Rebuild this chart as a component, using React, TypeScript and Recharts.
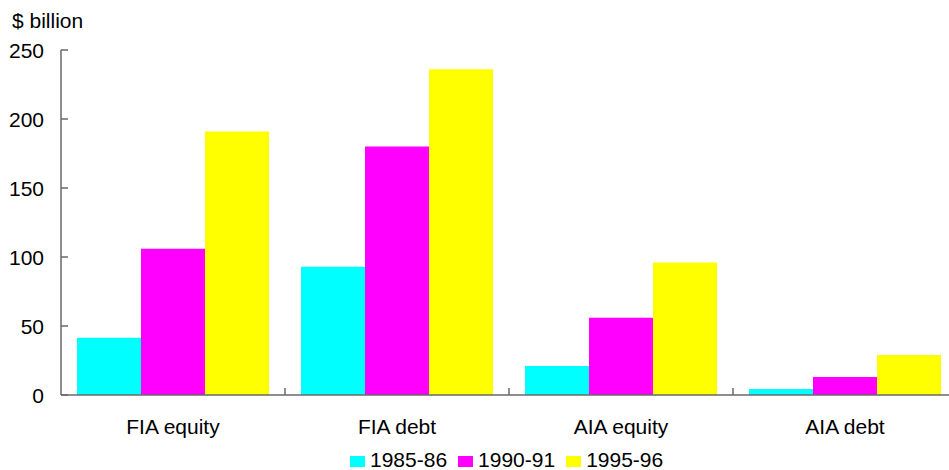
import { BarChart, Bar, XAxis, YAxis, Legend } from 'recharts';

// values, $ billion
const categories = ['FIA equity', 'FIA debt', 'AIA equity', 'AIA debt'];
const fy1985 = [41.5, 93, 21, 4.3];
const fy1990 = [106, 180, 56, 13];
const fy1995 = [191, 236, 96, 29];
const yTicks = [0, 50, 100, 150, 200, 250];

const data = categories.map((name, i) => ({
  name,
  '1985-86': fy1985[i],
  '1990-91': fy1990[i],
  '1995-96': fy1995[i],
}));

const FONT = '"Liberation Sans", Arial, sans-serif';
const AXIS = '#686868';
const CHART_W = 958;
const Y_AXIS_W = 61;
const BAND = (CHART_W - Y_AXIS_W - 1) / categories.length;

function YTick(props: any) {
  const { x, y, payload } = props;
  return (
    <g>
      <line x1={x + 17} x2={x + 24} y1={y} y2={y} stroke={AXIS} strokeWidth={1.5} />
      <text x={x} y={y} dy="0.36em" textAnchor="end" fontSize={21} fontFamily={FONT} fill="#000">
        {payload.value}
      </text>
    </g>
  );
}

function XTick(props: any) {
  const { x, y, payload, index } = props;
  return (
    <g>
      {index < categories.length - 1 && (
        <line x1={x + BAND / 2} x2={x + BAND / 2} y1={y} y2={y - 7} stroke={AXIS} strokeWidth={1.5} />
      )}
      <text x={x} y={y + 39} textAnchor="middle" fontSize={21} fontFamily={FONT} fill="#000">
        {payload.value}
      </text>
    </g>
  );
}

function LegendContent(props: any) {
  const { payload } = props;
  return (
    <div style={{ fontFamily: FONT, fontSize: 21, lineHeight: '24px', color: '#000', whiteSpace: 'nowrap' }}>
      {(payload || []).map((item: any) => (
        <span key={item.value} style={{ marginRight: 11 }}>
          <span
            style={{
              display: 'inline-block',
              width: 15,
              height: 11,
              background: item.color,
              marginRight: 5,
            }}
          />
          {item.value}
        </span>
      ))}
    </div>
  );
}

export default function App() {
  return (
    <div style={{ position: 'absolute', left: 0, top: 0, width: 949, height: 470, overflow: 'hidden', background: '#fff' }}>
      <BarChart
        width={CHART_W}
        height={470}
        data={data}
        margin={{ top: 50, right: 1, left: 0, bottom: 0 }}
        barCategoryGap={16}
        barGap={0}
      >
        <YAxis
          width={Y_AXIS_W}
          domain={[0, 250]}
          ticks={yTicks}
          interval={0}
          tickLine={false}
          tickSize={0}
          tickMargin={17}
          tick={<YTick />}
          axisLine={{ stroke: AXIS, strokeWidth: 1.5 }}
          label={{
            content: () => (
              <text x={12} y={28} fontSize={21} fontFamily={FONT} fill="#000">
                $ billion
              </text>
            ),
          }}
        />
        <XAxis
          dataKey="name"
          height={75}
          interval={0}
          tickLine={false}
          tickSize={0}
          tickMargin={0}
          tick={<XTick />}
          axisLine={{ stroke: AXIS, strokeWidth: 1.5 }}
        />
        <Legend
          layout="horizontal"
          align="center"
          verticalAlign="middle"
          content={<LegendContent />}
          wrapperStyle={{ position: 'absolute', left: 350, top: 448, width: 340 }}
        />
        <Bar dataKey="1985-86" fill="#00FFFF" isAnimationActive={false} />
        <Bar dataKey="1990-91" fill="#FF00FF" isAnimationActive={false} />
        <Bar dataKey="1995-96" fill="#FFFF00" isAnimationActive={false} />
      </BarChart>
    </div>
  );
}
